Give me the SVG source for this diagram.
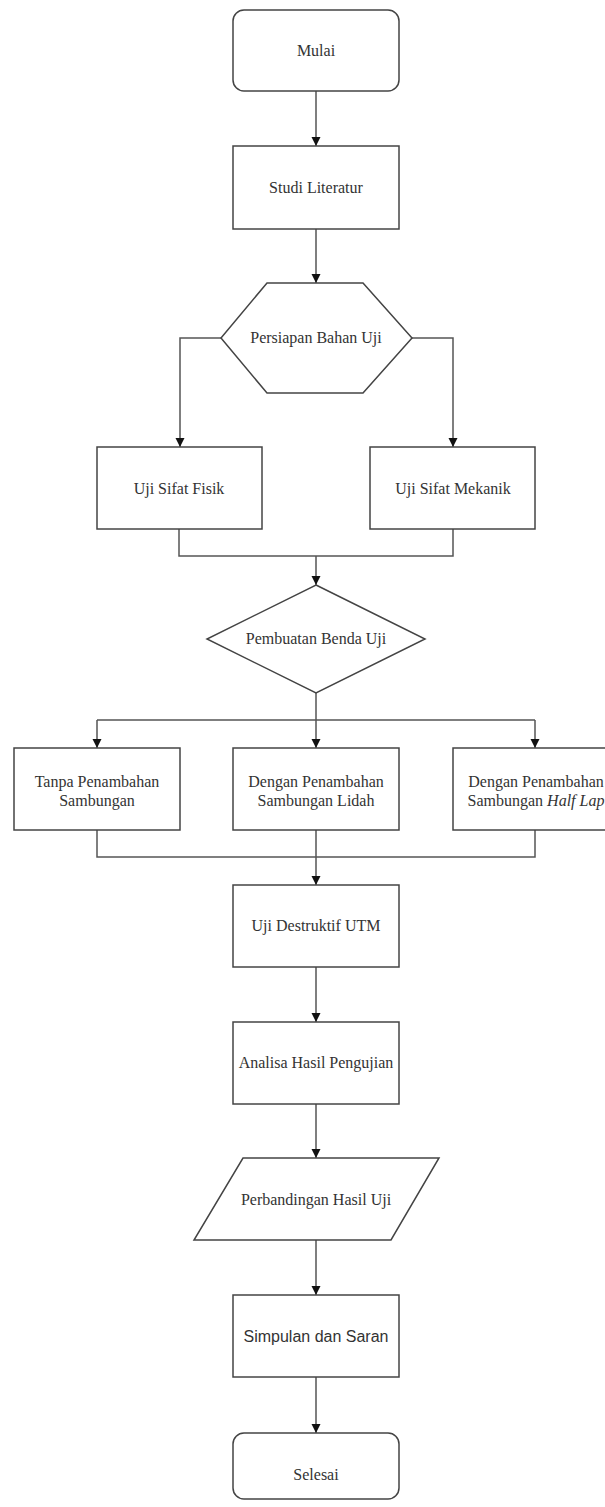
<svg xmlns="http://www.w3.org/2000/svg" width="605" height="1507" viewBox="0 0 605 1507">
<style>
.shape{fill:#fff;stroke:#444;stroke-width:1.5}
.conn{fill:none;stroke:#555;stroke-width:1.5}
.t{font-family:"Liberation Serif","Times New Roman",serif;font-size:16px;fill:#333;text-anchor:middle}
.s{font-family:"Liberation Sans",Arial,sans-serif;font-size:16px;fill:#333;text-anchor:middle}
</style>
<defs>
<marker id="arr" markerWidth="10" markerHeight="10" refX="9" refY="5" orient="auto" markerUnits="userSpaceOnUse">
<path d="M0,0.5 L9,5 L0,9.5 z" fill="#111"/>
</marker>
</defs>
<rect width="605" height="1507" fill="#fff"/>
<g id="connectors">
<path class="conn" d="M316,91 V146" marker-end="url(#arr)"/>
<path class="conn" d="M316,229 V283" marker-end="url(#arr)"/>
<path class="conn" d="M221,338 H180 V447" marker-end="url(#arr)"/>
<path class="conn" d="M412,338 H453 V447" marker-end="url(#arr)"/>
<path class="conn" d="M179,529 V556 H453 V529"/>
<path class="conn" d="M316,556 V585" marker-end="url(#arr)"/>
<path class="conn" d="M316,693 V748" marker-end="url(#arr)"/>
<path class="conn" d="M97,720 H535"/>
<path class="conn" d="M97,720 V748" marker-end="url(#arr)"/>
<path class="conn" d="M535,720 V748" marker-end="url(#arr)"/>
<path class="conn" d="M97,830 V857 H535 V830"/>
<path class="conn" d="M316,830 V885" marker-end="url(#arr)"/>
<path class="conn" d="M316,967 V1022" marker-end="url(#arr)"/>
<path class="conn" d="M316,1104 V1158" marker-end="url(#arr)"/>
<path class="conn" d="M316,1240 V1295" marker-end="url(#arr)"/>
<path class="conn" d="M316,1377 V1433" marker-end="url(#arr)"/>
</g>
<g id="mulai">
<rect class="shape" x="233" y="10" width="166" height="81" rx="11"/>
<text class="t" x="316" y="56">Mulai</text>
</g>
<g id="studi">
<rect class="shape" x="233" y="146" width="166" height="83"/>
<text class="t" x="316" y="193">Studi Literatur</text>
</g>
<g id="persiapan">
<polygon class="shape" points="267,283 363,283 412,338 363,393 267,393 221,338"/>
<text class="t" x="316" y="343">Persiapan Bahan Uji</text>
</g>
<g id="fisik">
<rect class="shape" x="97" y="447" width="165" height="82"/>
<text class="t" x="179" y="494">Uji Sifat Fisik</text>
</g>
<g id="mekanik">
<rect class="shape" x="370" y="447" width="165" height="82"/>
<text class="t" x="453" y="494">Uji Sifat Mekanik</text>
</g>
<g id="pembuatan">
<polygon class="shape" points="316,585 425,639 316,693 207,639"/>
<text class="t" x="316" y="644">Pembuatan Benda Uji</text>
</g>
<g id="tanpa">
<rect class="shape" x="14" y="748" width="166" height="82"/>
<text class="t" x="97" y="787">Tanpa Penambahan</text>
<text class="t" x="97" y="806">Sambungan</text>
</g>
<g id="lidah">
<rect class="shape" x="233" y="748" width="166" height="82"/>
<text class="t" x="316" y="787">Dengan Penambahan</text>
<text class="t" x="316" y="806">Sambungan Lidah</text>
</g>
<g id="halflap">
<rect class="shape" x="453" y="748" width="166" height="82"/>
<text class="t" x="536" y="787">Dengan Penambahan</text>
<text class="t" x="536" y="806">Sambungan <tspan font-style="italic">Half Lap</tspan></text>
</g>
<g id="destruktif">
<rect class="shape" x="233" y="885" width="166" height="82"/>
<text class="t" x="316" y="931">Uji Destruktif UTM</text>
</g>
<g id="analisa">
<rect class="shape" x="233" y="1022" width="166" height="82"/>
<text class="t" x="316" y="1068">Analisa Hasil Pengujian</text>
</g>
<g id="perbandingan">
<polygon class="shape" points="243,1158 439,1158 391,1240 194,1240"/>
<text class="t" x="316" y="1205">Perbandingan Hasil Uji</text>
</g>
<g id="simpulan">
<rect class="shape" x="233" y="1295" width="166" height="82"/>
<text class="s" x="316" y="1342">Simpulan dan Saran</text>
</g>
<g id="selesai">
<rect class="shape" x="233" y="1433" width="166" height="66" rx="11"/>
<text class="t" x="316" y="1480">Selesai</text>
</g>
</svg>
